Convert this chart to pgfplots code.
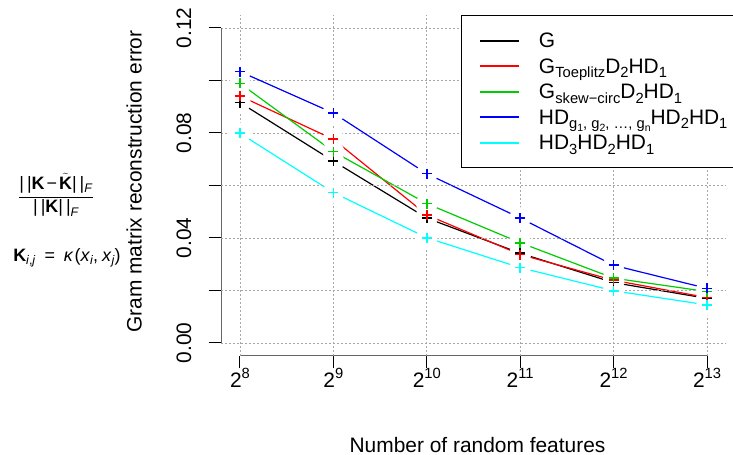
\documentclass[border=0pt]{standalone}
\usepackage{pgfplots}
\pgfplotsset{compat=1.18}
\usepackage{pgfplotstable}
\usepackage{fontspec}
\setmainfont{Liberation Sans}

\definecolor{rgreen}{RGB}{0,205,0}
\definecolor{rcyan}{RGB}{0,255,255}

% superscript / subscript helpers in the text font
\newcommand\pw[1]{2\raisebox{9bp}{\fontsize{14.8}{14.8}\selectfont #1}}
\newcommand\sub[1]{\raisebox{-4.5bp}{\fontsize{14.8}{14.8}\selectfont #1}}
\newcommand\subsub[1]{\raisebox{-3bp}{\fontsize{10.5}{10.5}\selectfont #1}}
\newcommand\fsub[1]{\raisebox{-3.5bp}{\fontsize{12.5}{12.5}\selectfont #1}}
\newcommand\bars{|\hspace{3bp}|}
\newcommand\legtext[1]{\makebox[200bp][l]{#1}}

% x = log2(number of features)
\pgfplotstableread{
x y
8  0.0916
9  0.0693
10 0.0476
11 0.0342
12 0.0230
13 0.0170
}\tblG
\pgfplotstableread{
x y
8  0.0941
9  0.0776
10 0.0488
11 0.0337
12 0.0239
13 0.0173
}\tblToep
\pgfplotstableread{
x y
8  0.0989
9  0.0729
10 0.0531
11 0.0382
12 0.0247
13 0.0196
}\tblSkew
\pgfplotstableread{
x y
8  0.1034
9  0.0876
10 0.0645
11 0.0476
12 0.0296
13 0.0208
}\tblHDg
\pgfplotstableread{
x y
8  0.0799
9  0.0573
10 0.0401
11 0.0287
12 0.0199
13 0.0145
}\tblHDthree

\tikzset{gridline/.style={black!35, line width=0.8bp, dash pattern=on 1.5bp off 2.5bp}}

% line, white gap disks, then the + points (R type="b")
\newcommand\lineplot[2]{\addplot[#1, mark=none, line width=1.2bp, forget plot] table {#2};}
\newcommand\gapplot[1]{\addplot[only marks, mark=*, mark size=10.5bp, mark options={fill=white, draw=white, line width=0.5bp}, forget plot] table {#1};}
\newcommand\ptplot[2]{\addplot[#1, only marks, mark=+, mark size=5bp, mark options={line width=1.6bp}, forget plot] table {#2};}

\begin{document}
\begin{tikzpicture}
\useasboundingbox (0,0) rectangle (733bp,455bp);
\begin{axis}[
  at={(221.3bp,99.4bp)}, anchor=south west,
  scale only axis, width=504.4bp, height=340.2bp,
  xmin=7.8, xmax=13.2, ymin=-0.0048, ymax=0.1248,
  axis lines=left, axis line style={draw=none},
  tick align=outside, major tick length=12.7bp,
  tick style={black, line width=1bp},
  xtick={8,9,10,11,12,13},
  xticklabels={\pw{8},\pw{9},\pw{10},\pw{11},\pw{12},\pw{13}},
  ytick={0,0.02,0.04,0.06,0.08,0.10,0.12},
  yticklabels={0.00,,0.04,,0.08,,0.12},
  tick label style={font=\fontsize{21}{21}\selectfont},
  xticklabel style={anchor=north, inner sep=0pt},
  yticklabel style={rotate=90, anchor=south, inner sep=0pt},
  yticklabel shift=17bp,
  grid=major,
  grid style={gridline},
  clip=false,
  legend style={at={(0.4746,1)}, anchor=north west, draw=black, line width=1bp,
    fill=white, inner xsep=0pt, inner ysep=12bp, row sep=0pt,
    font=\fontsize{21}{25}\selectfont,
    nodes={inner sep=0pt, text height=20bp, text depth=5.5bp}},
  legend cell align=left,
  legend image code/.code={\path (0,0) (76bp,0); \draw[#1] (18.3bp,0) -- (57.3bp,0);},
]
\draw[black!60, line width=1.2bp] (axis cs:8,-0.0048) -- (axis cs:13,-0.0048);
\draw[black!60, line width=1.2bp] (axis cs:7.8,0) -- (axis cs:7.8,0.12);

\lineplot{black}{\tblG}
\lineplot{red}{\tblToep}
\lineplot{rgreen}{\tblSkew}
\lineplot{blue}{\tblHDg}
\lineplot{rcyan}{\tblHDthree}

\gapplot{\tblG}
\gapplot{\tblToep}
\gapplot{\tblSkew}
\gapplot{\tblHDg}
\gapplot{\tblHDthree}

% grid again where the gaps covered it
\pgfplotsinvokeforeach{8,9,10,11,12,13}{\draw[gridline] (axis cs:#1,-0.0048) -- (axis cs:#1,0.1248);}
\pgfplotsinvokeforeach{0,0.02,0.04,0.06}{\draw[gridline] (axis cs:7.8,#1) -- (axis cs:13.2,#1);}

\ptplot{black}{\tblG}
\ptplot{red}{\tblToep}
\ptplot{rgreen}{\tblSkew}
\ptplot{blue}{\tblHDg}
\ptplot{rcyan}{\tblHDthree}

\addlegendimage{black, line width=1.8bp}
\addlegendentry{\legtext{G}}
\addlegendimage{red, line width=1.8bp}
\addlegendentry{\legtext{G\sub{Toeplitz}D\sub{2}HD\sub{1}}}
\addlegendimage{rgreen, line width=1.8bp}
\addlegendentry{\legtext{G\sub{skew−circ}D\sub{2}HD\sub{1}}}
\addlegendimage{blue, line width=1.8bp}
\addlegendentry{\legtext{HD\sub{g\subsub{1}, g\subsub{2}, …, g\subsub{n}}HD\sub{2}HD\sub{1}}}
\addlegendimage{rcyan, line width=1.8bp}
\addlegendentry{\legtext{HD\sub{3}HD\sub{2}HD\sub{1}}}
\end{axis}

\node[rotate=90, anchor=base, font=\fontsize{21}{21}\selectfont] at (141.5bp,273.5bp)
  {Gram matrix reconstruction error};
\node[anchor=base, font=\fontsize{21}{21}\selectfont] at (477.5bp,3bp)
  {Number of random features};

\node[font=\fontsize{18}{18}\selectfont] at (56bp,260bp)
  {$\displaystyle\frac{\mbox{\bars\textbf{K}\hspace{2bp}−\hspace{2bp}$\tilde{\mbox{\textbf{K}}}$\bars\fsub{\textit{F}}}}{\mbox{\bars\textbf{K}\bars\fsub{\textit{F}}}}$};
\node[font=\fontsize{18}{18}\selectfont] at (67bp,197bp)
  {\textbf{K}\fsub{\textit{i},\textit{j}}\hspace{9bp}=\hspace{9bp}\textit{κ}\hspace{1bp}(\textit{x}\fsub{\textit{i}},\hspace{4bp}\textit{x}\fsub{\textit{j}})};
\end{tikzpicture}
\end{document}
